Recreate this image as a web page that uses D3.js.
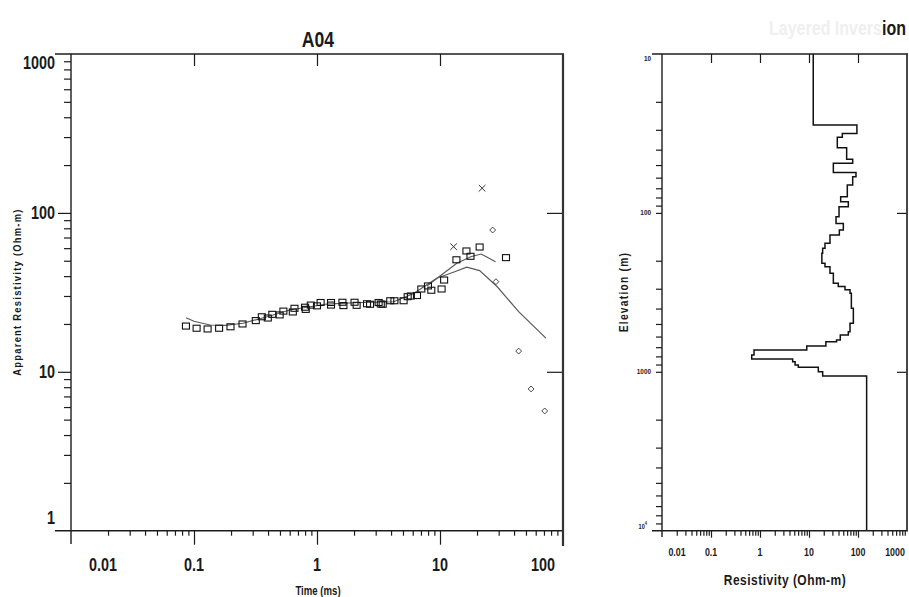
<!DOCTYPE html>
<html>
<head>
<meta charset="utf-8">
<script src="https://cdn.jsdelivr.net/npm/d3@7/dist/d3.min.js"></script>
<style>
  html, body { margin: 0; padding: 0; background: #fff; }
  svg { display: block; }
  text { font-family: 'Liberation Sans', Arial, sans-serif; fill: #1a1a1a; }
</style>
</head>
<body>
<svg id="chart" width="909" height="597"></svg>
<script>
// ---- Sounding A04: apparent resistivity curve ----
const dataTime = [0.086, 0.105, 0.129, 0.16, 0.198, 0.248, 0.318, 0.356, 0.398, 0.433, 0.497, 0.533,
  0.636, 0.656, 0.80, 0.81, 0.89, 1.0, 1.07, 1.3, 1.3, 1.61, 1.64, 2.02, 2.1, 2.55, 2.7, 3.17, 3.3,
  3.42, 3.94, 4.26, 5.06, 5.46, 5.8, 6.5, 7.05, 7.98, 8.5, 10.3, 10.8, 13.6, 16.4, 17.7, 21, 34.4];
const dataRho = [19.4, 18.8, 18.6, 18.8, 19.2, 20.0, 21.0, 22.2, 21.8, 23.0, 22.8, 24.1,
  23.8, 25.1, 25.5, 24.7, 26.3, 26.0, 27.3, 27.3, 26.3, 27.4, 26.1, 27.4, 26.2, 26.8, 26.6, 27.3, 26.7,
  26.6, 28.0, 28.0, 28.0, 29.7, 30.0, 30.2, 33.2, 34.7, 32.6, 33.2, 37.8, 50.7, 57.6, 53.3, 61.0, 52.3];

// modelled response (long curve)
const modelTime = [0.086, 0.1, 0.135, 0.18, 0.25, 0.4, 0.6, 1.2, 2, 4.2, 6.1, 9.4, 13, 16.5, 21, 29.2, 43.6, 72.6];
const modelRho  = [21.9, 20.8, 19.7, 19.6, 20.2, 22.3, 24.5, 26.7, 27.2, 27.6, 31.1, 38.8, 42.5, 45.5, 43.3, 34.3, 23.9, 16.3];

// second response branch near the peak
const fitTime = [7.84, 10.7, 13.7, 17.8, 21.6, 28.3];
const fitRho  = [34.7, 41.7, 48.2, 53.0, 55.1, 49.3];

// rejected / masked samples
const crossTime = [12.9, 22];
const crossRho  = [61.3, 143];
const diamTime  = [26.8, 28.5, 43.6, 55, 71];
const diamRho   = [78, 36.9, 13.5, 7.8, 5.67];

const timeTickLabels = ["0.01", "0.1", "1", "10", "100"];
const timeTickValues = [0.01, 0.1, 1, 10, 100];
const rhoTickLabels  = ["1", "10", "100", "1000"];
const rhoTickValues  = [1, 10, 100, 1000];

// ---- Layered inversion model ----
const layerRes = [12.2, 95, 47.9, 37.8, 58.7, 77.9, 31.4, 91, 77.9, 60.5, 44.3, 63.5, 41, 35.6, 50.2,
  41.6, 26.8, 21.2, 19.0, 18.3, 21.2, 26.8, 31.4, 39.6, 54.3, 68.7, 73.2, 80.4, 68.7, 63.5, 43.5,
  36.5, 22.1, 9.0, 0.755, 0.678, 4.64, 5.2, 6.05, 15.5, 19.0, 150];
const layerBottom = [28.0, 31.6, 33.4, 38.9, 46.0, 48.7, 55.6, 59.2, 66.7, 79.1, 85.0, 91.4, 105.6,
  116.4, 128, 137.8, 155, 167, 179.6, 207.6, 218, 240, 277, 291, 305, 320, 398, 495, 560, 587, 631,
  647, 689, 730, 784, 830, 863, 906, 937, 1000, 1062];

const resTickLabels = ["0.01", "0.1", "1", "10", "100", "1000"];
const resTickValues = [0.01, 0.1, 1, 10, 100, 1000];
const elevTickLabels = ["10", "100", "1000"];
const elevTickValues = [10, 100, 1000];

// ---------------------------------------------------------------
const svg = d3.select("#chart");
svg.append("rect").attr("width", 909).attr("height", 597).attr("fill", "#fff");

const INK = "#1c1c1c";
const NARROW = 0.8;   // horizontal squeeze for the condensed lettering

// condensed text placed at (x, y)
function ntext(parent, x, y, str, size, opts) {
  opts = opts || {};
  const sx = opts.sx || NARROW;
  const rot = opts.rotate ? ` rotate(${opts.rotate})` : "";
  const t = parent.append("text")
    .attr("transform", `translate(${x},${y})${rot} scale(${sx},1)`)
    .attr("text-anchor", opts.anchor || "middle")
    .attr("font-size", size)
    .attr("font-weight", opts.weight || "bold")
    .attr("fill", opts.fill || "#1a1a1a");
  if (opts.spacing) t.attr("letter-spacing", opts.spacing);
  if (str !== null) t.text(str);
  return t;
}

// minor log ticks 1..9 per decade
function logTicks(lo, hi) {
  const out = [];
  for (let e = Math.floor(Math.log10(lo)); e <= Math.ceil(Math.log10(hi)); e++) {
    for (let m = 1; m < 10; m++) {
      const v = m * Math.pow(10, e);
      if (v >= lo * 0.999 && v <= hi * 1.001) out.push(v);
    }
  }
  return out;
}

function tickGroup(g, axis) {
  g.call(axis);
  g.select(".domain").remove();
  g.selectAll("line").attr("stroke", INK).attr("stroke-width", 1.2);
  g.selectAll("text").remove();
}

function frameLine(x1, y1, x2, y2, w, c) {
  svg.append("line").attr("x1", x1).attr("y1", y1).attr("x2", x2).attr("y2", y2)
    .attr("stroke", c || INK).attr("stroke-width", w || 1.4);
}

// ================= Left panel =================
const xL = d3.scaleLog().domain([0.01, 100]).range([71, 563]);
const yL = d3.scaleLog().domain([1, 1000]).range([530.7, 54]);
const L = svg.append("g");

tickGroup(L.append("g").attr("transform", `translate(0,${yL(1)})`),
  d3.axisBottom(xL).tickValues(logTicks(0.01, 100).filter(v => !timeTickValues.includes(v))).tickSize(5));
tickGroup(L.append("g").attr("transform", `translate(0,${yL(1)})`),
  d3.axisBottom(xL).tickValues([0.1, 1, 10]).tickSize(14));
tickGroup(L.append("g").attr("transform", `translate(0,${yL(1000)})`),
  d3.axisBottom(xL).tickValues([0.1, 1, 10]).tickSize(12));
tickGroup(L.append("g").attr("transform", `translate(${xL(0.01)},0)`),
  d3.axisLeft(yL).tickValues(logTicks(1, 1000).filter(v => !rhoTickValues.includes(v))).tickSize(7));
tickGroup(L.append("g").attr("transform", `translate(${xL(0.01)},0)`),
  d3.axisLeft(yL).tickValues([10, 100]).tickSize(13));
tickGroup(L.append("g").attr("transform", `translate(${xL(100)},0)`),
  d3.axisLeft(yL).tickValues([10, 100]).tickSize(16));

frameLine(55, yL(1000), xL(100) + 1, yL(1000));
frameLine(55, yL(1), xL(100) + 1, yL(1));
frameLine(xL(0.01), yL(1000), xL(0.01), 544);
frameLine(xL(100), yL(1000), xL(100), 546, 2.2, "#333");

// tick labels (end labels pulled inside the frame)
const xLabelShift = { "0.01": 32, "100": -20 };
timeTickValues.forEach((v, i) => {
  ntext(L, xL(v) + (xLabelShift[timeTickLabels[i]] || 0), 571, timeTickLabels[i], 18, { fill: "#222" });
});
const yLabelShift = { "1000": 9, "1": -13 };
rhoTickValues.forEach((v, i) => {
  ntext(L, 55, yL(v) + (yLabelShift[rhoTickLabels[i]] || 0) + 6, rhoTickLabels[i], 18, { anchor: "end", fill: "#222" });
});

// titles
ntext(svg, 318, 47, "A04", 22);
ntext(svg, 318, 595, "Time (ms)", 12, { fill: "#333" });
ntext(svg, 21, 292, "Apparent Resistivity (Ohm-m)", 11, { rotate: -90, fill: "#555", spacing: 1.5, sx: 0.85 });

// curves
const lineL = d3.line().x(d => xL(d[0])).y(d => yL(d[1]));
L.append("path").attr("d", lineL(d3.zip(modelTime, modelRho)))
  .attr("fill", "none").attr("stroke", "#5a5a5a").attr("stroke-width", 1.2);
L.append("path").attr("d", lineL(d3.zip(fitTime, fitRho)))
  .attr("fill", "none").attr("stroke", "#5a5a5a").attr("stroke-width", 1.2);

// measured data
L.selectAll("rect.sq").data(d3.zip(dataTime, dataRho)).join("rect")
  .attr("x", d => xL(d[0]) - 3.5).attr("y", d => yL(d[1]) - 3)
  .attr("width", 7).attr("height", 6)
  .attr("fill", "none").attr("stroke", "#111").attr("stroke-width", 1.1);

// crosses
const cross = d3.symbol().type(d3.symbolX).size(30);
L.selectAll("path.cx").data(d3.zip(crossTime, crossRho)).join("path")
  .attr("transform", d => `translate(${xL(d[0])},${yL(d[1])})`)
  .attr("d", cross).attr("fill", "none").attr("stroke", "#333").attr("stroke-width", 1);

// diamonds
const diamond = d3.symbol().type(d3.symbolDiamond2).size(22);
L.selectAll("path.dm").data(d3.zip(diamTime, diamRho)).join("path")
  .attr("transform", d => `translate(${xL(d[0])},${yL(d[1])})`)
  .attr("d", diamond).attr("fill", "none").attr("stroke", "#444").attr("stroke-width", 1);

// ================= Right panel =================
const xR = d3.scaleLog().domain([0.01, 1000]).range([662, 907]);
const yR = d3.scaleLog().domain([10, 10000]).range([54, 530.7]);
const R = svg.append("g");

tickGroup(R.append("g").attr("transform", `translate(0,${yR(10000)})`),
  d3.axisBottom(xR).tickValues(logTicks(0.01, 1000).filter(v => !resTickValues.includes(v))).tickSize(5));
tickGroup(R.append("g").attr("transform", `translate(0,${yR(10000)})`),
  d3.axisBottom(xR).tickValues([0.1, 1, 10, 100]).tickSize(7));
tickGroup(R.append("g").attr("transform", `translate(0,${yR(10)})`),
  d3.axisBottom(xR).tickValues([0.1, 1, 10, 100]).tickSize(9));
tickGroup(R.append("g").attr("transform", `translate(${xR(0.01)},0)`),
  d3.axisLeft(yR).tickValues(logTicks(10, 10000).filter(v => ![10, 10000].includes(v))).tickSize(6));
tickGroup(R.append("g").attr("transform", `translate(${xR(1000)},0)`),
  d3.axisLeft(yR).tickValues([100, 1000]).tickSize(10));

frameLine(652, yR(10), xR(1000) + 1, yR(10));
frameLine(652, yR(10000), xR(1000) + 1, yR(10000));
frameLine(xR(0.01), yR(10), xR(0.01), 537);
frameLine(xR(1000), yR(10), xR(1000), yR(10000), 1.8, "#333");

const rLabelShift = { "0.01": 15, "1000": -12 };
resTickValues.forEach((v, i) => {
  ntext(R, xR(v) + (rLabelShift[resTickLabels[i]] || 0), 556, resTickLabels[i], 11, { fill: "#555" });
});
const eLabelShift = { "10": 4 };
elevTickValues.forEach((v, i) => {
  ntext(R, 651, yR(v) + (eLabelShift[elevTickLabels[i]] || 0) + 2.5, elevTickLabels[i], 8, { anchor: "end", fill: "#666" });
});
const e4 = ntext(R, 647, yR(10000) - 2, null, 7, { anchor: "end", fill: "#777" });
e4.append("tspan").text("10");
e4.append("tspan").attr("dy", -4).attr("font-size", 5).text("4");

ntext(svg, 785, 585, "Resistivity (Ohm-m)", 15, { fill: "#333", spacing: 0.6 });
ntext(svg, 628, 292, "Elevation (m)", 12, { rotate: -90, fill: "#444", spacing: 1.5, sx: 0.85 });

const rt = ntext(svg, 906, 35, null, 20, { anchor: "end" });
rt.append("tspan").attr("fill", "#efefef").text("Layered Invers");
rt.append("tspan").attr("fill", "#1a1a1a").text("ion");

// step profile: each layer drawn as a vertical run, joined by horizontal steps
const tops = [10].concat(layerBottom);
const bottoms = layerBottom.concat([10000]);
const stepPts = [];
layerRes.forEach((r, i) => { stepPts.push([r, tops[i]]); stepPts.push([r, bottoms[i]]); });
const lineR = d3.line().x(d => xR(d[0])).y(d => yR(d[1]));
R.append("path").attr("d", lineR(stepPts))
  .attr("fill", "none").attr("stroke", "#111").attr("stroke-width", 1.5);
</script>
</body>
</html>
